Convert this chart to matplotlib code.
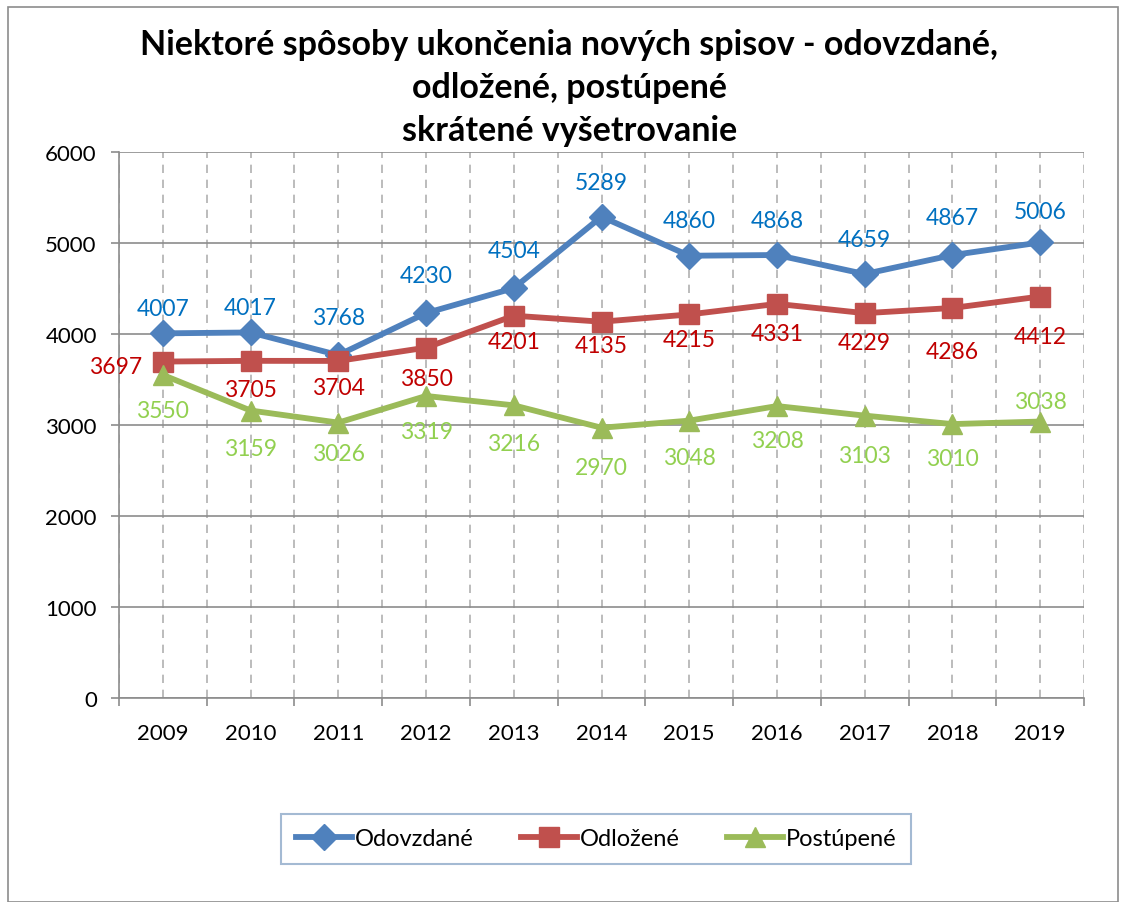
import matplotlib
matplotlib.use("Agg")
import matplotlib.pyplot as plt
from matplotlib.patches import Rectangle

plt.rcParams['font.family'] = ['Lato', 'DejaVu Sans']

# Údaje
roky = ['2009', '2010', '2011', '2012', '2013', '2014', '2015', '2016', '2017', '2018', '2019']
odovzdane = [4007, 4017, 3768, 4230, 4504, 5289, 4860, 4868, 4659, 4867, 5006]
odlozene = [3697, 3705, 3704, 3850, 4201, 4135, 4215, 4331, 4229, 4286, 4412]
postupene = [3550, 3159, 3026, 3319, 3216, 2970, 3048, 3208, 3103, 3010, 3038]

# posuny popiskov (v pixeloch, kladne = nad bodom)
pos_modra = [25, 25, 38, 38, 38, 34, 35, 35, 35, 38, 31]
pos_cervena = [-5, -29, -27, -31, -26, -24, -25, -30, -29, -44, -40]
pos_zelena = [-36, -38, -31, -36, -38, -40, -37, -34, -40, -34, 20]

PX = 72 / 100  # pixel -> body

fig = plt.figure(figsize=(11.23, 9.03), dpi=100)
ax = fig.add_axes([119 / 1123, 1 - 699 / 903, 965 / 1123, 546 / 903])

# Rámik okolo celého grafu
fig.patches.append(Rectangle((8 / 1123, 0.0), 1110 / 1123, 895 / 903, transform=fig.transFigure,
                             fill=False, edgecolor='#8c8c8c', linewidth=1.2))

x = list(range(len(roky)))
ax.plot(x, odovzdane, color='#4F81BD', lw=4.2, marker='D', ms=13, label='Odovzdané', zorder=3)
ax.plot(x, odlozene, color='#C0504D', lw=4.2, marker='s', ms=14, label='Odložené', zorder=3)
ax.plot(x, postupene, color='#9BBB59', lw=4.2, marker='^', ms=14, label='Postúpené', zorder=3)

fs = 16.5
for i, v in enumerate(odovzdane):
    ax.annotate(str(v), (i, v), xytext=(0, pos_modra[i] * PX), textcoords='offset points',
                ha='center', va='center', color='#0070C0', fontsize=fs)
for i, v in enumerate(odlozene):
    if i == 0:
        ax.annotate(str(v), (i, v), xytext=(-21 * PX, pos_cervena[i] * PX), textcoords='offset points',
                    ha='right', va='center', color='#C00000', fontsize=fs)
    else:
        ax.annotate(str(v), (i, v), xytext=(0, pos_cervena[i] * PX), textcoords='offset points',
                    ha='center', va='center', color='#C00000', fontsize=fs)
for i, v in enumerate(postupene):
    ax.annotate(str(v), (i, v), xytext=(0, pos_zelena[i] * PX), textcoords='offset points',
                ha='center', va='center', color='#92D050', fontsize=fs)

ax.set_xlim(-0.5, len(roky) - 0.5)
ax.set_ylim(0, 6000)
ax.set_yticks(range(0, 6001, 1000))
ax.set_xticks(x)
ax.set_xticklabels(roky)
ax.set_xticks([i - 0.5 for i in range(len(roky) + 1)], minor=True)

ax.grid(axis='y', color='#8c8c8c', lw=1.2)
ax.grid(axis='x', which='both', color='#b0b0b0', lw=1.2, linestyle=(0, (5, 4)))
ax.set_axisbelow(True)

for s in ['top', 'right']:
    ax.spines[s].set_visible(False)
ax.spines['left'].set_color('#8c8c8c')
ax.spines['bottom'].set_color('#8c8c8c')
ax.spines['left'].set_linewidth(1.2)
ax.spines['bottom'].set_linewidth(1.2)

ax.tick_params(axis='x', which='major', length=0, pad=18, labelsize=16)
ax.tick_params(axis='x', which='minor', length=6, color='#8c8c8c', width=1.2)
ax.tick_params(axis='y', length=6, color='#8c8c8c', width=1.2, labelsize=16, pad=10)

fig.text(0.507, 1 - 88 / 903, 'Niektoré spôsoby ukončenia nových spisov - odovzdané,\nodložené, postúpené\nskrátené vyšetrovanie',
         ha='center', va='center', fontsize=24.5, fontweight='bold', linespacing=1.42)

leg = fig.legend(loc='center', bbox_to_anchor=(596 / 1123, 1 - 840 / 903), ncol=3, fontsize=17,
                 frameon=True, fancybox=False, edgecolor='#8EA9C8', handlelength=2.4,
                 columnspacing=2.0, borderpad=0.6, handletextpad=0.1)
leg.get_frame().set_linewidth(1.5)

fig.savefig('out.png', dpi=100)
